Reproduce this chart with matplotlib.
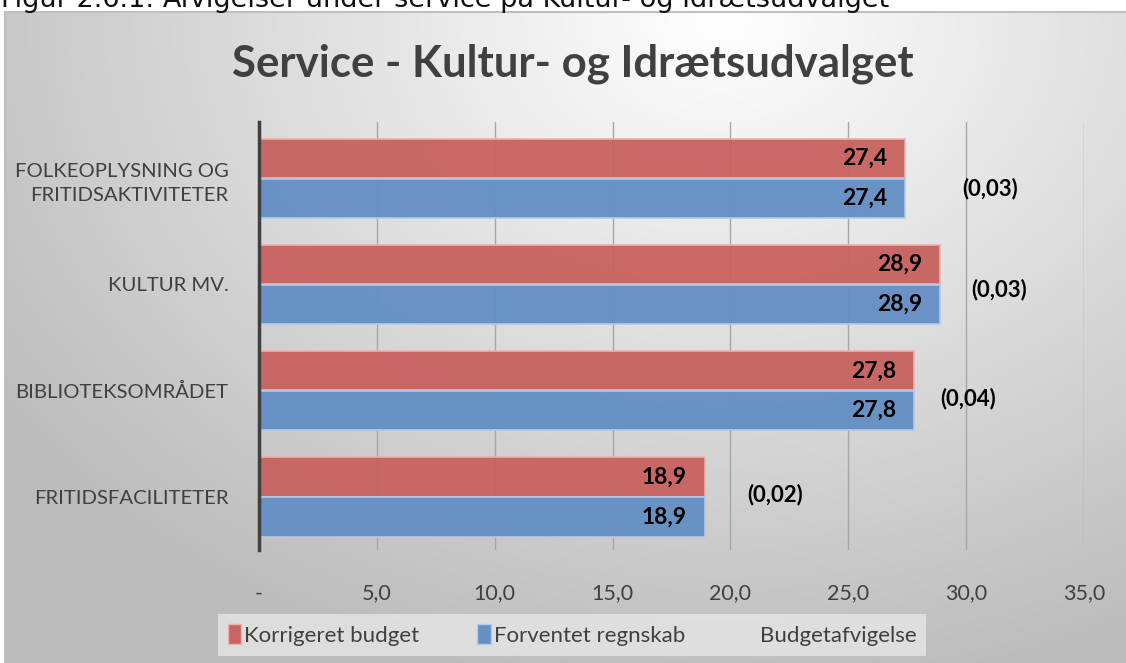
import numpy as np
import matplotlib
matplotlib.use("Agg")
import matplotlib.pyplot as plt
from matplotlib.patches import Patch

# data
categories = ["FOLKEOPLYSNING OG\nFRITIDSAKTIVITETER", "KULTUR MV.", "BIBLIOTEKSOMRÅDET", "FRITIDSFACILITETER"]
korrigeret = [27.4, 28.9, 27.8, 18.9]
forventet = [27.4, 28.9, 27.8, 18.9]
afvigelse = [-0.03, -0.03, -0.04, -0.02]
xticks = [0, 5, 10, 15, 20, 25, 30, 35]
xticklabels = ["-", "5,0", "10,0", "15,0", "20,0", "25,0", "30,0", "35,0"]

red = "#c86461"
blue = "#6690c4"
font = "Lato"

def dk(v):
    return f"{v:.1f}".replace(".", ",")

fig = plt.figure(figsize=(11.26, 6.63), dpi=100)

# background with radial gradient
bg = fig.add_axes([0, 0, 1, 1])
W, H = 1126, 663
yy, xx = np.mgrid[0:H, 0:W]
d = np.sqrt(((xx - 720) / 900.0) ** 2 + ((yy - 20) / 700.0) ** 2)
g = np.clip(1.0 - 0.27 * d, 0.74, 1.0)
img = np.dstack([g, g, g])
img[:12, :, :] = 1.0
img[:, :5, :] = 1.0
bg.imshow(img, extent=[0, W, H, 0], aspect="auto")
bg.plot([5, W], [12, 12], color="#bfbfbf", lw=1.5)
bg.plot([5, 5], [12, H], color="#bfbfbf", lw=1.5)
bg.set_xlim(0, W)
bg.set_ylim(H, 0)
bg.axis("off")

fig.text(0.001, 1 - 7 / H, "Figur 2.6.1: Afvigelser under service på Kultur- og Idrætsudvalget",
         fontsize=19.5, family="DejaVu Sans", va="baseline", ha="left", color="#111111")

fig.text(573 / W, 1 - 64 / H, "Service - Kultur- og Idrætsudvalget", fontsize=31.5,
         fontweight="bold", family=font, color="#404040", ha="center", va="center")

ax = fig.add_axes([259 / W, 1 - 550 / H, (1084 - 259) / W, (550 - 122) / H])
ax.patch.set_alpha(0)

y = np.arange(len(categories))
h = 0.37
off = 0.188
ax.barh(y - off, korrigeret, height=h, color=red, edgecolor="#eab3b1", lw=1.2, alpha=0.97, zorder=3)
ax.barh(y + off, forventet, height=h, color=blue, edgecolor="#b3cbe8", lw=1.2, alpha=0.97, zorder=3)

for i in range(len(categories)):
    ax.text(korrigeret[i] - 0.75, y[i] - off, dk(korrigeret[i]), ha="right", va="center",
            fontsize=16.5, fontweight="bold", family=font, color="black", zorder=5)
    ax.text(forventet[i] - 0.75, y[i] + off, dk(forventet[i]), ha="right", va="center",
            fontsize=16.5, fontweight="bold", family=font, color="black", zorder=5)

# deviation labels, placed to the right of the bars
lab_shift = [3.6, 2.5, 2.3, 3.0]
lab_dy = [0.1, 0.05, 0.07, -0.02]
for i in range(len(categories)):
    txt = "(" + f"{abs(afvigelse[i]):.2f}".replace(".", ",") + ")"
    ax.text(korrigeret[i] + lab_shift[i], y[i] + lab_dy[i], txt, ha="center", va="center",
            fontsize=16, fontweight="bold", family=font, color="black", zorder=5)

ax.set_xlim(0, 35)
ax.set_ylim(3.5, -0.53)
ax.set_xticks(xticks)
ax.set_xticklabels(xticklabels, fontsize=15.5, family=font, color="#404040")
ax.set_yticks(y)
ax.set_yticklabels(categories, fontsize=14.6, family=font, color="#404040", linespacing=1.5)
ax.tick_params(axis="both", length=0)
ax.tick_params(axis="x", pad=24)
ax.tick_params(axis="y", pad=22)
ax.grid(axis="x", color="#a6a6a6", lw=1, zorder=0)
for s in ["top", "right", "bottom"]:
    ax.spines[s].set_visible(False)
ax.spines["left"].set_color("#404040")
ax.spines["left"].set_linewidth(2.5)
ax.spines["left"].set_zorder(6)

# legend
handles = [Patch(facecolor=red, edgecolor="#eab3b1"),
           Patch(facecolor=blue, edgecolor="#b3cbe8"),
           Patch(facecolor="none", edgecolor="none")]
labels = ["Korrigeret budget", "Forventet regnskab", "Budgetafvigelse"]
leg = fig.legend(handles, labels, loc="center", bbox_to_anchor=(572 / W, 1 - 635 / H), ncol=3,
                 frameon=True, fancybox=False, handlelength=0.6, handleheight=1.0, handletextpad=0.15,
                 columnspacing=2.6, borderpad=0.45, borderaxespad=0, prop={"family": font, "size": 16})
leg.get_frame().set_facecolor("#e6e6e6")
leg.get_frame().set_edgecolor("none")
leg.get_frame().set_alpha(0.8)
for t in leg.get_texts():
    t.set_color("#404040")

fig.savefig("out.png", dpi=100)
